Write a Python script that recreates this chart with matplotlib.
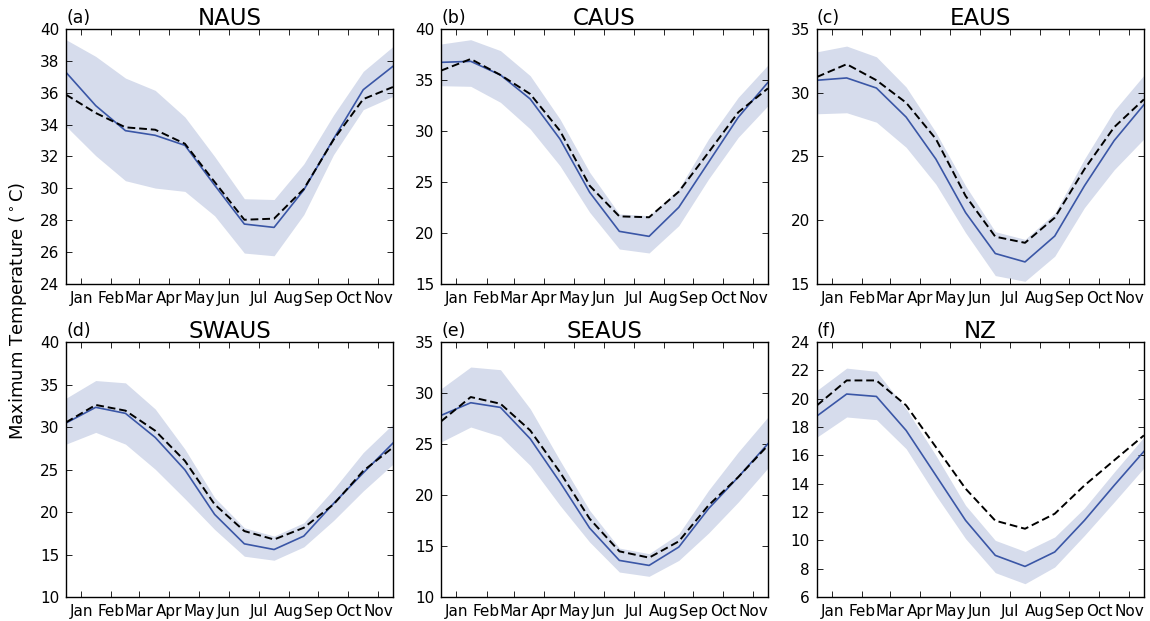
import numpy as np
import matplotlib
matplotlib.use('Agg')
import matplotlib.pyplot as plt

months = ['Jan', 'Feb', 'Mar', 'Apr', 'May', 'Jun', 'Jul', 'Aug', 'Sep', 'Oct', 'Nov']
regions = ['NAUS', 'CAUS', 'EAUS', 'SWAUS', 'SEAUS', 'NZ']
panel_labels = ['(a)', '(b)', '(c)', '(d)', '(e)', '(f)']

# model mean (blue), observations (dashed), model spread (band)
naus_mean = [37.28, 35.19, 33.62, 33.33, 32.70, 30.20, 27.76, 27.55, 29.90, 33.10, 36.19, 37.66]
naus_obs = [35.88, 34.73, 33.83, 33.68, 32.80, 30.40, 28.03, 28.10, 29.96, 33.05, 35.60, 36.36]
naus_hi = [39.33, 38.28, 36.92, 36.15, 34.48, 32.00, 29.35, 29.30, 31.53, 34.60, 37.34, 38.90]
naus_lo = [33.90, 32.05, 30.48, 30.02, 29.81, 28.28, 25.94, 25.77, 28.35, 32.11, 34.94, 35.77]

caus_mean = [36.73, 36.83, 35.49, 33.14, 29.22, 23.99, 20.16, 19.67, 22.52, 26.93, 31.34, 34.77]
caus_obs = [35.92, 37.06, 35.49, 33.63, 30.03, 24.64, 21.63, 21.54, 24.05, 27.90, 31.83, 34.18]
caus_hi = [38.53, 38.95, 37.88, 35.42, 31.18, 25.95, 21.86, 21.70, 24.31, 29.22, 33.30, 36.47]
caus_lo = [34.44, 34.38, 32.81, 30.20, 26.60, 22.03, 18.43, 18.04, 20.72, 25.29, 29.38, 32.48]

eaus_mean = [30.98, 31.16, 30.37, 28.09, 24.80, 20.60, 17.39, 16.73, 18.76, 22.70, 26.25, 29.06]
eaus_obs = [31.24, 32.24, 30.98, 29.22, 26.38, 21.91, 18.71, 18.23, 20.20, 24.01, 27.30, 29.48]
eaus_hi = [33.21, 33.66, 32.82, 30.45, 26.90, 22.70, 19.10, 18.50, 20.55, 24.80, 28.60, 31.37]
eaus_lo = [28.35, 28.43, 27.69, 25.72, 22.83, 19.02, 15.66, 15.21, 17.18, 20.99, 23.96, 26.38]

swaus_mean = [30.47, 32.32, 31.61, 28.78, 24.96, 19.72, 16.26, 15.59, 17.17, 21.00, 24.60, 28.11]
swaus_obs = [30.55, 32.60, 31.93, 29.57, 26.02, 20.90, 17.76, 16.77, 18.15, 20.90, 24.84, 27.60]
swaus_hi = [33.39, 35.47, 35.20, 32.13, 27.40, 21.70, 18.15, 17.17, 18.74, 22.68, 27.00, 30.35]
swaus_lo = [27.99, 29.37, 27.99, 25.04, 21.57, 17.95, 14.80, 14.33, 15.90, 19.00, 22.48, 25.63]

seaus_mean = [27.81, 29.05, 28.59, 25.52, 21.27, 16.76, 13.59, 13.10, 14.90, 18.66, 21.76, 25.03]
seaus_obs = [27.22, 29.61, 28.95, 26.34, 22.25, 17.68, 14.48, 13.86, 15.46, 18.99, 21.76, 24.87]
seaus_hi = [30.42, 32.55, 32.29, 28.46, 23.40, 18.50, 14.80, 14.25, 16.20, 20.46, 24.22, 27.65]
seaus_lo = [25.20, 26.67, 25.75, 22.90, 18.99, 15.39, 12.45, 12.03, 13.59, 16.27, 19.31, 22.65]

nz_mean = [18.78, 20.33, 20.16, 17.76, 14.59, 11.41, 8.94, 8.16, 9.18, 11.41, 13.88, 16.28]
nz_obs = [19.53, 21.29, 21.29, 19.53, 16.59, 13.65, 11.39, 10.82, 11.88, 13.88, 15.65, 17.41]
nz_hi = [20.59, 22.16, 21.93, 19.29, 16.00, 12.47, 10.00, 9.22, 10.24, 12.28, 14.82, 17.29]
nz_lo = [17.29, 18.71, 18.52, 16.47, 13.18, 10.12, 7.72, 6.94, 8.12, 10.35, 12.71, 15.11]

y_ranges = [(24, 40, 2), (15, 40, 5), (15, 35, 5), (10, 40, 5), (10, 35, 5), (6, 24, 2)]

means = [naus_mean, caus_mean, eaus_mean, swaus_mean, seaus_mean, nz_mean]
obs = [naus_obs, caus_obs, eaus_obs, swaus_obs, seaus_obs, nz_obs]
his = [naus_hi, caus_hi, eaus_hi, swaus_hi, seaus_hi, nz_hi]
los = [naus_lo, caus_lo, eaus_lo, swaus_lo, seaus_lo, nz_lo]

x = np.arange(12)
tick_pos = [0.52, 1.53, 2.45, 3.47, 4.47, 5.48, 6.48, 7.49, 8.49, 9.5, 10.5]

plt.rcParams['font.family'] = ['DejaVu Sans']

fig = plt.figure(figsize=(11.5, 6.21), dpi=100)
lefts = [0.0574, 0.3835, 0.7104]
bottoms = [0.5427, 0.0386]

for k in range(6):
    r, c = divmod(k, 3)
    ax = fig.add_axes([lefts[c], bottoms[r], 0.2843, 0.4106])
    ax.fill_between(x, los[k], his[k], color='#d6dcec', linewidth=0)
    ax.plot(x, means[k], color='#3a56a6', lw=1.2)
    ax.plot(x, obs[k], color='black', lw=1.4, ls='--', dashes=(4, 2))
    ax.set_xlim(0, 11)
    lo, hi, step = y_ranges[k]
    ax.set_ylim(lo, hi)
    ax.set_yticks(np.arange(lo, hi + 0.1, step))
    ax.set_xticks(tick_pos)
    ax.set_xticklabels(months)
    ax.tick_params(direction='in', top=True, right=True, labelsize=11, length=4, width=0.6, pad=5)
    for s in ax.spines.values():
        s.set_linewidth(1.0)
    ax.set_title(regions[k], fontsize=16.5, pad=3)
    ax.text(0.0, 1.008, panel_labels[k], transform=ax.transAxes, fontsize=12.5,
            ha='left', va='bottom')

fig.text(0.016, 0.5, 'Maximum Temperature ($^\\circ$C)', rotation=90, fontsize=13,
         ha='center', va='center')

fig.savefig('out.png', dpi=100)
